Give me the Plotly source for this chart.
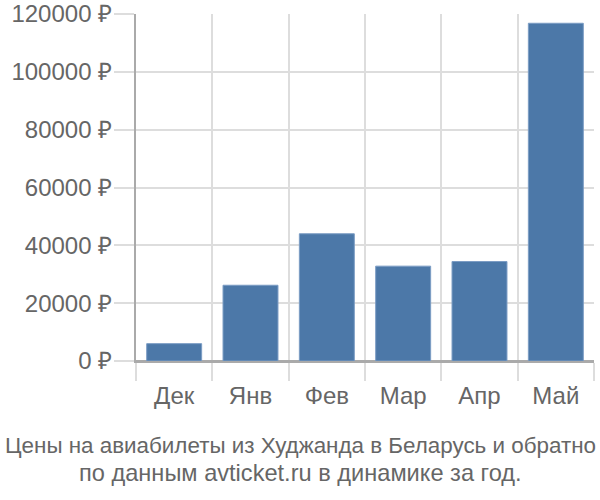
import plotly.graph_objects as go

months = ["Дек", "Янв", "Фев", "Мар", "Апр", "Май"]
prices = [6000, 26200, 44000, 32800, 34400, 116800]
y_ticks = [0, 20000, 40000, 60000, 80000, 100000, 120000]
y_labels = [f"{v} ₽" for v in y_ticks]
title_lines = ["Цены на авиабилеты из Худжанда в Беларусь и обратно",
               "по данным avticket.ru в динамике за год."]

grid = "#dddddd"
axis = "#aaaaaa"
txt = "#666666"

L, R, T, B = 136, 6, 14, 138.5
plot_w = 600 - L - R
plot_h = 500 - T - B

fig = go.Figure(go.Bar(x=months, y=prices, marker_color="#4c78a8",
                       marker_line_width=1, marker_line_color="#7b9cc4",
                       width=0.72))

title_ys = [446, 474]
title_sizes = [22.4, 23.6]
annos = [dict(text=t, x=(300 - L) / plot_w, xref="paper", xanchor="center",
              y=(361.5 - yy) / plot_h, yref="paper", yanchor="middle",
              showarrow=False, align="center",
              font=dict(family="Liberation Sans, Arial, sans-serif", size=s, color=txt))
         for t, yy, s in zip(title_lines, title_ys, title_sizes)]

fig.update_layout(
    width=600, height=500,
    margin=dict(l=L, r=R, t=T, b=B, autoexpand=False),
    paper_bgcolor="white", plot_bgcolor="white",
    showlegend=False,
    font=dict(family="Liberation Sans, Arial, sans-serif", size=24, color=txt),
    xaxis=dict(tickson="boundaries", showgrid=True, gridcolor=grid, gridwidth=2,
               ticks="outside", ticklen=18, tickcolor=grid, tickwidth=2,
               showline=True, linecolor=axis, linewidth=2, automargin=False,
               ticklabelstandoff=12,
               tickfont=dict(size=24, color=txt)),
    yaxis=dict(range=[0, 120000], tickvals=y_ticks, ticktext=y_labels,
               showgrid=True, gridcolor=grid, gridwidth=2,
               ticks="outside", ticklen=20, tickcolor=grid, tickwidth=2,
               showline=True, linecolor=axis, linewidth=2, automargin=False,
               ticklabelstandoff=-3,
               zeroline=True, zerolinecolor=axis, zerolinewidth=2,
               tickfont=dict(size=24, color=txt)),
    annotations=annos,
)

fig.write_html("out.html", config={"displayModeBar": False},
               post_script="document.body.style.margin='0';")
